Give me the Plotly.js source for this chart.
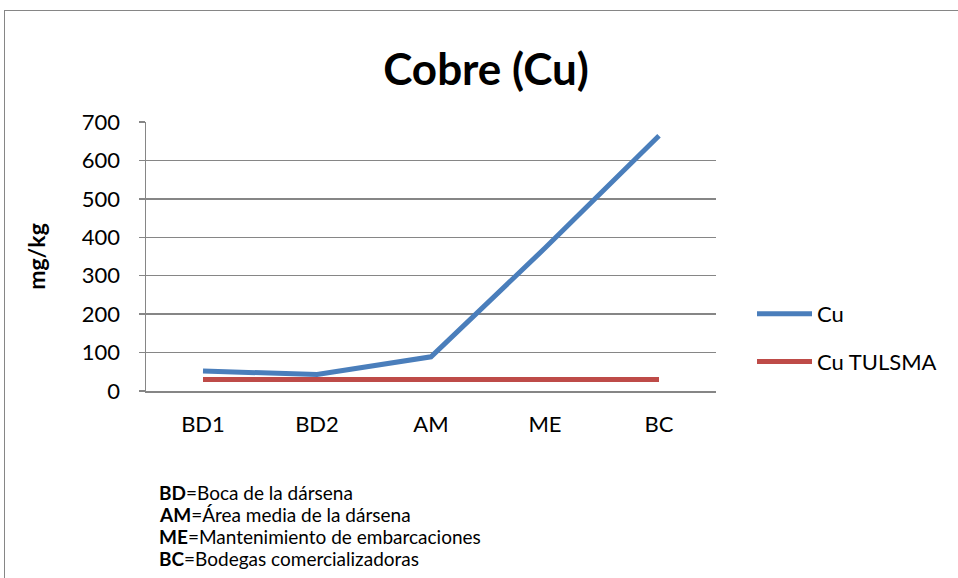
<!DOCTYPE html>
<html>
<head>
<meta charset="utf-8">
<script src="https://cdn.plot.ly/plotly-3.0.1.min.js"></script>
<style>
  html, body { margin: 0; padding: 0; background: #ffffff; overflow: hidden; }
  #frame { position: absolute; left: 4px; top: 10px; width: 1200px; height: 900px; border: 1px solid #868686; box-sizing: border-box; }
  #chart { position: absolute; left: 0; top: 0; width: 958px; height: 578px; }
</style>
</head>
<body>
<div id="frame"></div>
<div id="chart"></div>
<script>
const categories = ["BD1", "BD2", "AM", "ME", "BC"];
const cuValues = [52, 43, 89, 372, 664];
const tulsmaValues = [30, 30, 30, 30, 30];
const seriesNames = ["Cu", "Cu TULSMA"];
const yTicks = [0, 100, 200, 300, 400, 500, 600, 700];
const footnotes = [
  ["BD", "Boca de la dársena"],
  ["AM", "Área media de la dársena"],
  ["ME", "Mantenimiento de embarcaciones"],
  ["BC", "Bodegas comercializadoras"]
];

const FONT = "Lato, 'Open Sans', sans-serif";
const W = 958, H = 578;
const L = 146, R = 716, T = 122, B = 391;

const traces = [
  { x: categories, y: cuValues, name: seriesNames[0], type: "scatter", mode: "lines",
    line: { color: "#4a7ebb", width: 5 }, legendgroup: "a" },
  { x: categories, y: tulsmaValues, name: seriesNames[1], type: "scatter", mode: "lines",
    line: { color: "#be4b48", width: 5 }, legendgroup: "b" }
];

const footAnn = footnotes.map((f, i) => ({
  xref: "paper", yref: "paper",
  x: (157 - L) / (R - L),
  y: (B - (492 + 22 * i)) / (B - T),
  xanchor: "left", yanchor: "middle",
  text: "<b>" + f[0] + "</b>=" + f[1],
  showarrow: false,
  font: { family: FONT, size: 19, color: "#000" }
}));

const layout = {
  width: W, height: H,
  paper_bgcolor: "rgba(0,0,0,0)",
  plot_bgcolor: "rgba(0,0,0,0)",
  margin: { l: L, r: W - R, t: T, b: H - B, pad: 0 },
  title: { text: "<b>Cobre (Cu)</b>", font: { family: FONT, size: 44, color: "#000" },
           x: 486 / W, xanchor: "center", y: 1 - 70 / H, yanchor: "middle" },
  xaxis: {
    type: "category", range: [-0.5, 4.5], showgrid: false, zeroline: false,
    showline: true, linecolor: "#868686", linewidth: 1.5,
    ticks: "", ticklabelstandoff: 13,
    tickfont: { family: FONT, size: 22, color: "#000" },
    fixedrange: true
  },
  yaxis: {
    range: [0, 700], tickvals: yTicks, showgrid: true, gridcolor: "#868686", gridwidth: 1.3,
    zeroline: false, showline: true, linecolor: "#868686", linewidth: 1.5,
    ticks: "outside", ticklen: 6, tickcolor: "#868686", tickwidth: 1.3,
    ticklabelstandoff: 14,
    tickfont: { family: FONT, size: 22, color: "#000" },
    title: { text: "<b>mg/kg</b>", font: { family: FONT, size: 23, color: "#000" }, standoff: 30 },
    fixedrange: true
  },
  showlegend: true,
  legend: {
    x: (752 - L) / (R - L), y: (B - 293) / (B - T), xanchor: "left", yanchor: "top",
    font: { family: FONT, size: 22, color: "#000" }, itemwidth: 55,
    traceorder: "grouped", tracegroupgap: 16, bgcolor: "rgba(0,0,0,0)"
  },
  annotations: footAnn
};

Plotly.newPlot("chart", traces, layout, { displayModeBar: false, staticPlot: true });
</script>
</body>
</html>
